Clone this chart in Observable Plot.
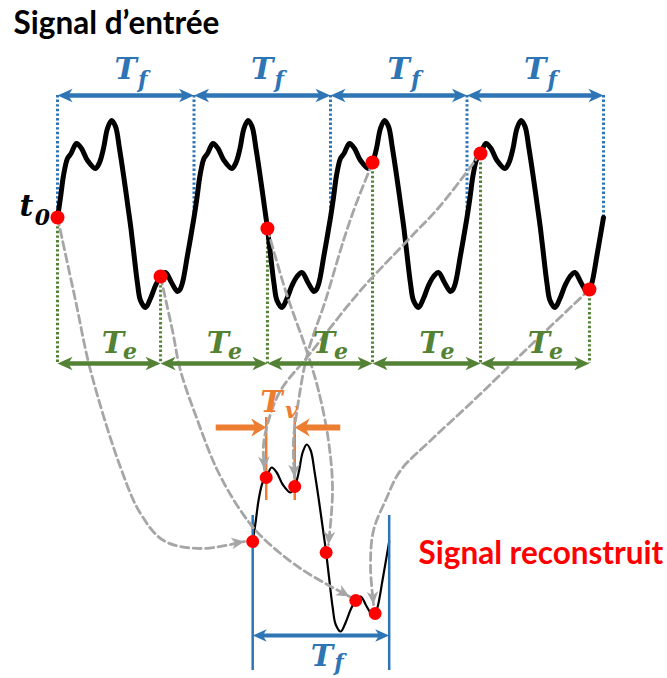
<!DOCTYPE html>
<html><head><meta charset="utf-8">
<script src="https://cdn.jsdelivr.net/npm/d3@7"></script>
<script src="https://cdn.jsdelivr.net/npm/@observablehq/plot@0.6"></script>
<style>
html,body{margin:0;padding:0;background:#fff;}
#chart{width:667px;height:678px;overflow:hidden;}
</style></head><body><div id="chart"></div>
<script>
// ================= DATA (time in units of Tf, amplitude in arbitrary units) =================
const periods = [0, 1, 2, 3];                       // four periods of the input signal
// one period of the input signal (phase in Tf, amplitude)
const templatePhase = [0, 0.022, 0.044, 0.073, 0.099, 0.139, 0.176, 0.220, 0.278, 0.308, 0.337, 0.366,
  0.396, 0.425, 0.454, 0.484, 0.520, 0.538, 0.557, 0.586, 0.608, 0.645, 0.681, 0.718, 0.755, 0.791,
  0.835, 0.879, 0.897, 0.916, 0.952, 1.0];
const templateValue = [0, 0.20, 0.42, 0.59, 0.64, 0.74, 0.69, 0.57, 0.49, 0.55, 0.69, 0.89,
  0.97, 0.91, 0.69, 0.42, 0.07, -0.11, -0.33, -0.66, -0.83, -0.90, -0.81, -0.68, -0.59, -0.55,
  -0.65, -0.74, -0.72, -0.65, -0.38, 0];
// sampling instants (every Te) and the sampled values
const sampleTime = [0, 0.755, 1.538, 2.308, 3.099, 3.897];
const sampleValue = [0, -0.59, -0.11, 0.55, 0.64, -0.72];
// texts
const titleIn = "Signal d\u2019entrée";
const titleOut = "Signal reconstruit";
const symT = "T", subF = "f", subE = "e", subV = "v", symt = "t", sub0 = "0";

// ================= LAYOUT (diagram geometry, in the same units) =================
const W = 667, H = 678, KX = 136.5, KY = 100, X0 = 57, Y0 = 217;
const recStart = 1.43, recOffset = 3.24;
const yTfArrow = 1.22, yTfLabel = 1.39, yTeArrow = -1.46, yTeLabel = -1.35;
const yDottedEnd = -0.04;
const recLineTop = -2.98, recLineBottom = -4.53, yRecArrow = -4.18, yRecLabel = -4.48;
const tvTop = -2.00, tvBottom = -2.83, yTvArrow = -2.10, yTvLabel = -1.94;
const yTitleIn = 1.84, xTitleIn = -0.322, yTitleOut = -3.46, xTitleOut = 2.645;
// gray dashed connectors: intermediate waypoints and arrow tip
const connectorWay = [
  [[0.132,-0.83],[0.242,-1.53],[0.462,-2.50],[0.608,-2.96],[0.777,-3.23],[1.048,-3.31],[1.370,-3.24]],
  [[0.842,-1.13],[0.901,-1.53],[1.026,-2.03],[1.172,-2.53],[1.341,-2.93],[1.487,-3.18],[1.780,-3.51],[2.139,-3.79]],
  [[1.670,-0.73],[1.832,-1.36],[1.912,-1.73],[1.985,-2.23],[2.015,-2.73],[1.985,-3.27]],
  [[2.183,0.12],[2.095,-0.23],[1.963,-0.83],[1.832,-1.36],[1.766,-1.83],[1.729,-2.23],[1.736,-2.60]],
  [[2.806,0.12],[2.564,-0.23],[2.220,-0.73],[1.839,-1.38],[1.634,-1.73],[1.546,-2.03],[1.509,-2.28],[1.516,-2.52]],
  [[3.465,-1.28],[3.048,-1.83],[2.733,-2.23],[2.513,-2.53],[2.403,-2.83],[2.315,-3.13],[2.293,-3.48],[2.315,-3.87]]
];

const C = {blue: "#2E75B6", green: "#548235", orange: "#ED7D31", gray: "#A6A6A6", red: "#FF0000", black: "#000"};
const mathFont = "DejaVu Serif";
const textFont = "Lato";

// ================= BUILD =================
const template = templatePhase.map((p, i) => ({p, v: templateValue[i]}));
const topSignal = [];
periods.forEach(k => template.forEach((d, i) => { if (i < template.length - 1) topSignal.push({t: k + d.p, v: d.v}); }));
topSignal.push({t: periods.length, v: templateValue[templateValue.length - 1]});
const recSignal = template.map(d => ({t: recStart + d.p, v: d.v - recOffset}));

const samples = sampleTime.map((t, i) => ({t, v: sampleValue[i], phase: t - Math.floor(t)}));
const recDots = samples.map(s => ({t: recStart + s.phase, v: s.v - recOffset}));

function ang(dx, dy) { return Math.atan2(dx, -dy) * 180 / Math.PI; }
const connectors = [];
const grayHeads = [];
connectorWay.forEach((way, i) => {
  const pts = [[samples[i].t, samples[i].v], ...way];
  pts.forEach(([t, v]) => connectors.push({id: i, t, v}));
  const a = pts[pts.length - 2], b = pts[pts.length - 1];
  grayHeads.push({t: b[0], v: b[1], r: ang((b[0]-a[0])*KX, -(b[1]-a[1])*KY)});
});

function head(wr, notch) {
  return {draw(ctx, size) {
    const r = Math.sqrt(size / Math.PI), L = 2 * r, w = wr * r;
    ctx.moveTo(0, 0); ctx.lineTo(w, L); ctx.lineTo(0, notch * L); ctx.lineTo(-w, L); ctx.closePath();
  }};
}
const headStd = head(0.9, 0.72), headWide = head(1.2, 0.7);

// double arrows
const tfArrows = periods.map(k => ({a: k, b: k + 1, y: yTfArrow}));
const teArrows = sampleTime.slice(0, -1).map((t, i) => ({a: t, b: sampleTime[i + 1], y: yTeArrow}));
const recArrow = [{a: recStart, b: recStart + 1, y: yRecArrow}];
function headsOf(arr) {
  const out = [];
  arr.forEach(d => { out.push({t: d.a, v: d.y, r: -90}); out.push({t: d.b, v: d.y, r: 90}); });
  return out;
}
const inset = 8 / KX;

// Tv
const tvPhases = [samples[4].phase, samples[3].phase];
const tvLines = tvPhases.map(p => ({t: recStart + p}));
const tvArrows = [
  {a: tvLines[0].t - 50 / KX, b: tvLines[0].t, r: 90},
  {a: tvLines[1].t + 46 / KX, b: tvLines[1].t, r: -90}
];

function mathLabel(xs, y, main, sub, color, dxMain, dxSub, dySub) {
  const d = xs.map(x => ({t: x, v: y}));
  return [
    Plot.text(d, {x: "t", y: "v", text: () => main, fill: color, fontFamily: mathFont, fontWeight: "bold",
      fontStyle: "italic", fontSize: 30, lineAnchor: "bottom", dx: dxMain}),
    Plot.text(d, {x: "t", y: "v", text: () => sub, fill: color, fontFamily: mathFont, fontWeight: "bold",
      fontStyle: "italic", fontSize: 22, lineAnchor: "bottom", dx: dxSub, dy: dySub})
  ];
}

const chart = Plot.plot({
  width: W, height: H, margin: 0,
  x: {domain: [-X0 / KX, (W - X0) / KX], range: [0, W], axis: null},
  y: {domain: [(Y0 - H) / KY, Y0 / KY], range: [H, 0], axis: null},
  style: {background: "#fff", overflow: "visible"},
  marks: [
    // dotted guides
    Plot.ruleX(d3.range(periods.length + 1), {x: d => d, y1: yTfArrow, y2: yDottedEnd, stroke: C.blue, strokeWidth: 3, strokeDasharray: "2.4 2.2"}),
    Plot.ruleX(samples, {x: "t", y1: "v", y2: yTeArrow, stroke: C.green, strokeWidth: 3, strokeDasharray: "2.4 2.2"}),
    // signals
    Plot.line(topSignal, {x: "t", y: "v", curve: "catmull-rom", stroke: C.black, strokeWidth: 5, strokeLinejoin: "round"}),
    Plot.line(recSignal, {x: "t", y: "v", curve: "catmull-rom", stroke: C.black, strokeWidth: 2.2}),
    // reconstruction frame
    Plot.ruleX([recStart, recStart + 1], {x: d => d, y1: recLineTop, y2: recLineBottom, stroke: C.blue, strokeWidth: 2.5}),
    Plot.ruleX(tvLines, {x: "t", y1: tvTop, y2: tvBottom, stroke: C.orange, strokeWidth: 2.5}),
    // connectors
    Plot.line(connectors, {x: "t", y: "v", z: "id", curve: "catmull-rom", stroke: C.gray, strokeWidth: 2.8, strokeDasharray: "8 4.5"}),
    // samples
    Plot.dot(samples, {x: "t", y: "v", r: 7, fill: C.red}),
    Plot.dot(recDots, {x: "t", y: "v", r: 6.5, fill: C.red}),
    Plot.dot(grayHeads, {x: "t", y: "v", rotate: "r", symbol: headStd, r: 6.5, fill: C.gray, stroke: "none"}),
    // Tf arrows
    Plot.ruleY(tfArrows, {y: "y", x1: d => d.a + inset, x2: d => d.b - inset, stroke: C.blue, strokeWidth: 4.5}),
    Plot.dot(headsOf(tfArrows), {x: "t", y: "v", rotate: "r", symbol: headStd, r: 7.5, fill: C.blue, stroke: "none"}),
    // Te arrows
    Plot.ruleY(teArrows, {y: "y", x1: d => d.a + inset, x2: d => d.b - inset, stroke: C.green, strokeWidth: 4.5}),
    Plot.dot(headsOf(teArrows), {x: "t", y: "v", rotate: "r", symbol: headStd, r: 7.5, fill: C.green, stroke: "none"}),
    // reconstructed Tf arrow
    Plot.ruleY(recArrow, {y: "y", x1: d => d.a + inset, x2: d => d.b - inset, stroke: C.blue, strokeWidth: 4}),
    Plot.dot(headsOf(recArrow), {x: "t", y: "v", rotate: "r", symbol: headStd, r: 7, fill: C.blue, stroke: "none"}),
    // Tv arrows
    Plot.ruleY(tvArrows, {y: yTvArrow, x1: "a", x2: d => d.b + (d.r > 0 ? -inset : inset), stroke: C.orange, strokeWidth: 6}),
    Plot.dot(tvArrows, {x: "b", y: yTvArrow, rotate: "r", symbol: headWide, r: 7.5, fill: C.orange, stroke: "none"}),
    // labels
    ...mathLabel(periods.map(k => k + 0.5), yTfLabel, symT, subF, C.blue, 0, 17, 8),
    ...mathLabel(teArrows.map(d => (d.a + d.b) / 2), yTeLabel, symT, subE, C.green, 4, 21, 6),
    ...mathLabel([recStart + 0.5], yRecLabel, symT, subF, C.blue, 1, 18, 4),
    ...mathLabel([(tvLines[0].t + tvLines[1].t) / 2], yTvLabel, symT, subV, C.orange, -9, 11, 6),
    ...mathLabel([0], 0.02, symt, sub0, C.black, -31, -15, 9),
    Plot.text([titleIn], {x: xTitleIn, y: yTitleIn, text: d => d, fontFamily: textFont, fontWeight: "bold", fontSize: 31.5, fill: C.black, textAnchor: "start", lineAnchor: "bottom"}),
    Plot.text([titleOut], {x: xTitleOut, y: yTitleOut, text: d => d, fontFamily: textFont, fontWeight: "bold", fontSize: 31.5, fill: C.red, textAnchor: "start", lineAnchor: "bottom"})
  ]
});
document.getElementById("chart").appendChild(chart);
</script></body></html>
